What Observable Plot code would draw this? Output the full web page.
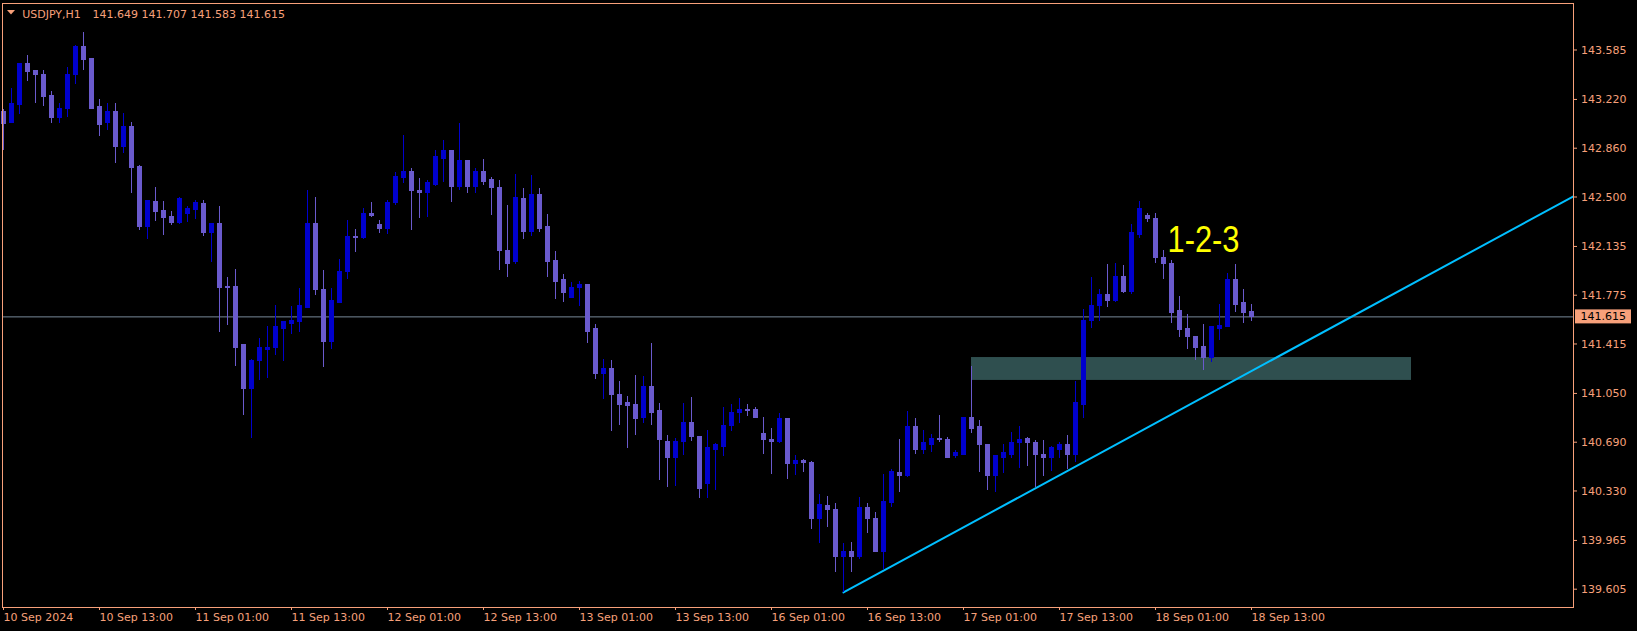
<!DOCTYPE html>
<html><head><meta charset="utf-8">
<script src="https://cdn.jsdelivr.net/npm/d3@7"></script>
<script src="https://cdn.jsdelivr.net/npm/@observablehq/plot@0.6"></script>
<style>html,body{margin:0;padding:0;background:#000;overflow:hidden}</style>
</head><body><div id="chart"></div>
<script>
const symbol = "USDJPY,H1";
const open = [143.131,143.043,143.176,143.478,143.427,143.404,143.242,143.080,143.153,143.397,143.604,143.515,143.161,143.043,143.131,142.866,143.013,142.718,142.282,142.460,142.393,142.349,142.305,142.378,142.401,142.445,142.231,142.297,141.839,141.832,141.404,141.086,141.286,141.374,141.382,141.529,141.566,141.574,141.684,142.297,141.817,141.426,141.721,141.943,142.208,142.194,142.378,142.290,142.267,142.452,142.637,142.688,142.543,142.526,142.592,142.777,142.836,142.577,142.769,142.577,142.681,142.622,142.563,142.105,142.017,142.482,142.238,142.518,142.275,142.024,141.884,141.758,141.825,141.847,141.522,141.190,141.227,141.042,140.983,140.961,140.865,141.094,140.917,140.695,140.570,140.688,140.835,140.732,140.385,140.636,140.658,140.806,140.902,140.931,140.931,140.754,140.703,140.688,140.858,140.526,140.548,140.540,140.120,140.216,140.193,139.846,139.876,139.846,140.208,140.120,139.883,140.238,140.459,140.444,140.799,140.636,140.673,140.717,140.703,140.585,140.599,140.872,140.799,140.673,140.444,140.577,140.592,140.681,140.710,140.681,140.599,140.570,140.636,140.673,140.599,140.968,141.581,141.692,141.780,141.729,141.906,141.802,142.223,142.356,142.341,142.053,142.009,141.655,141.522,141.470,141.396,141.315,141.529,141.537,141.884,141.721,141.649];
const high = [143.146,143.301,143.488,143.545,143.434,143.434,143.279,143.190,143.456,143.618,143.714,143.522,143.220,143.190,143.190,143.117,143.050,142.733,142.474,142.570,142.467,142.393,142.497,142.430,142.474,142.474,142.297,142.430,141.906,141.965,141.404,141.300,141.456,141.544,141.699,141.581,141.692,141.825,142.548,142.496,141.957,141.825,142.039,142.326,142.260,142.415,142.459,142.326,142.474,142.681,142.954,142.710,142.637,142.622,142.843,142.917,142.843,143.042,142.769,142.710,142.777,142.644,142.622,142.437,142.666,142.563,142.659,142.563,142.371,142.098,141.928,141.869,141.876,141.847,141.559,141.300,141.293,141.138,141.027,141.182,141.175,141.419,140.976,140.740,140.717,140.976,141.020,140.732,140.776,140.681,140.946,140.968,141.013,140.968,140.946,140.872,140.791,140.902,140.858,140.592,140.562,140.548,140.304,140.289,140.238,139.942,139.950,140.282,140.238,140.171,140.452,140.489,140.710,140.917,140.865,140.777,140.747,140.887,140.725,140.629,140.872,141.249,140.850,140.673,140.592,140.673,140.762,140.806,140.725,140.703,140.703,140.658,140.688,140.740,141.138,141.670,141.906,141.817,142.002,142.009,141.994,142.297,142.467,142.378,142.378,142.105,142.031,141.766,141.633,141.470,141.559,141.544,141.706,141.935,142.002,141.817,141.707];
const low = [142.846,143.043,143.112,143.353,143.190,143.168,143.043,143.043,143.087,143.333,143.434,143.146,142.947,142.991,142.747,142.821,142.526,142.253,142.187,142.319,142.216,142.290,142.297,142.312,142.334,142.209,142.017,141.500,141.551,141.249,140.887,140.715,141.146,141.160,141.330,141.286,141.485,141.500,141.684,141.773,141.241,141.374,141.721,141.891,142.090,142.186,142.349,142.231,142.223,142.437,142.600,142.253,142.341,142.349,142.577,142.607,142.459,142.548,142.526,142.526,142.585,142.363,141.957,141.906,142.002,142.186,142.208,142.238,141.906,141.743,141.721,141.758,141.692,141.419,141.153,141.005,140.769,140.813,140.644,140.740,140.828,140.813,140.407,140.356,140.363,140.592,140.695,140.275,140.275,140.334,140.585,140.769,140.828,140.880,140.872,140.599,140.452,140.681,140.415,140.444,140.467,140.046,139.942,140.061,139.728,139.581,139.728,139.824,140.016,139.876,139.751,140.208,140.319,140.430,140.599,140.599,140.614,140.688,140.570,140.570,140.599,140.754,140.467,140.334,140.319,140.459,140.570,140.496,140.511,140.356,140.437,140.474,140.570,140.489,140.540,140.865,141.529,141.581,141.684,141.721,141.788,141.780,142.194,142.312,142.009,141.891,141.566,141.463,141.374,141.293,141.219,141.278,141.441,141.537,141.647,141.566,141.583];
const close = [143.038,143.190,143.478,143.422,143.397,143.235,143.080,143.153,143.397,143.604,143.508,143.153,143.035,143.131,142.866,143.013,142.711,142.282,142.467,142.386,142.342,142.305,142.482,142.408,142.452,142.231,142.297,141.825,141.825,141.389,141.086,141.293,141.382,141.389,141.537,141.574,141.581,141.692,142.297,141.810,141.426,141.729,141.950,142.208,142.194,142.378,142.363,142.267,142.459,142.644,142.688,142.541,142.528,142.600,142.792,142.836,142.577,142.769,142.577,142.681,142.614,142.563,142.098,142.009,142.489,142.238,142.518,142.267,142.017,141.876,141.795,141.825,141.847,141.507,141.190,141.227,141.035,140.968,140.954,140.858,141.094,140.909,140.703,140.570,140.695,140.835,140.725,140.348,140.644,140.666,140.813,140.909,140.931,140.924,140.872,140.703,140.688,140.858,140.526,140.548,140.533,140.120,140.223,140.193,139.846,139.883,139.846,140.208,140.120,139.883,140.245,140.467,140.444,140.799,140.636,140.681,140.717,140.703,140.577,140.607,140.872,140.791,140.666,140.444,140.585,140.607,140.681,140.703,140.681,140.592,140.570,140.644,140.673,140.599,140.976,141.588,141.699,141.780,141.729,141.906,141.802,142.231,142.408,142.334,142.046,142.009,141.647,141.515,141.470,141.389,141.315,141.537,141.551,141.884,141.706,141.647,141.615];

const tickIndex = [0,12,24,36,48,60,72,84,96,108,120,132,144,156];
const tickLabels = ["10 Sep 2024","10 Sep 13:00","11 Sep 01:00","11 Sep 13:00","12 Sep 01:00","12 Sep 13:00","13 Sep 01:00","13 Sep 13:00","16 Sep 01:00","16 Sep 13:00","17 Sep 01:00","17 Sep 13:00","18 Sep 01:00","18 Sep 13:00"];
const priceTicks = [143.585,143.220,142.860,142.500,142.135,141.775,141.415,141.050,140.690,140.330,139.965,139.605];

const zoneIndex = [121, 176];
const zonePrice = [141.146, 141.315];
const trendIndex = [105, 196.25];
const trendPrice = [139.581, 142.505];
const noteText = ["1-2-3"];
const noteIndex = [145.5];
const notePrice = [142.18];

const BULL = "#0000CD", BEAR = "#6A5ACD", AXIS = "#F7A07A";
const n = open.length, last = n - 1;

const bars = open.map((o, i) => ({
  i, o, h: high[i], l: low[i], c: close[i],
  col: close[i] >= o ? BULL : BEAR
}));
const zone = [{x1: zoneIndex[0], x2: zoneIndex[1], y1: zonePrice[0], y2: zonePrice[1]}];
const trend = trendIndex.map((x, k) => ({x, y: trendPrice[k]}));
const notes = noteText.map((t, k) => ({t, x: noteIndex[k], y: notePrice[k]}));

const chart = Plot.plot({
  width: 1637, height: 631,
  marginLeft: 2, marginRight: 64, marginTop: 3, marginBottom: 24,
  style: {background: "#000", fontFamily: "DejaVu Sans", fontSize: "11px", color: AXIS},
  x: {type: "linear", domain: [-0.125, 196.25]},
  y: {type: "linear", domain: [139.4699, 143.9282]},
  marks: [
    Plot.rect(zone, {x1: "x1", x2: "x2", y1: "y1", y2: "y2", fill: "#2F4F4F"}),
    Plot.ruleY([close[last]], {stroke: "#778899", strokeWidth: 1}),
    Plot.line(trend, {x: "x", y: "y", stroke: "#00BFFF", strokeWidth: 2, clip: true}),
    Plot.ruleX(bars, {x: "i", y1: "l", y2: "h", stroke: "col", strokeWidth: 1, shapeRendering: "crispEdges"}),
    Plot.rect(bars, {x1: d => d.i - 0.25, x2: d => d.i + 0.375,
      y1: d => Math.min(d.o, d.c), y2: d => Math.max(d.o, d.c),
      insetTop: -0.5, insetBottom: -0.5, fill: "col", shapeRendering: "crispEdges"}),
    Plot.text(notes, {x: "x", y: "y", text: "t", fill: "#FFFF00", fontSize: 37,
      fontFamily: "Liberation Sans, Arial, sans-serif", textAnchor: "start", lineAnchor: "middle"}),
    Plot.text([symbol], {frameAnchor: "top-left", dx: 19.7, dy: 6.5, fill: AXIS, lineAnchor: "top", textAnchor: "start"}),
    Plot.text([[open[last], high[last], low[last], close[last]].map(v => v.toFixed(3)).join(" ")],
      {frameAnchor: "top-left", dx: 90, dy: 6.5, fill: AXIS, lineAnchor: "top", textAnchor: "start"}),
    Plot.axisY(priceTicks, {anchor: "right", tickSize: 3, tickPadding: 4.5, tickFormat: d => d.toFixed(3),
      stroke: AXIS, fill: AXIS, label: null}),
    Plot.axisX(tickIndex, {anchor: "bottom", tickSize: 3, tickPadding: 3, textAnchor: "start",
      tickFormat: d => tickLabels[tickIndex.indexOf(d)], stroke: AXIS, fill: AXIS, label: null}),
    Plot.frame({stroke: AXIS})
  ]
});
document.getElementById("chart").appendChild(chart);

// decorations: price tag on the axis, header triangle, narrow annotation text
const svg = d3.select(chart);
const yS = chart.scale("y"), xS = chart.scale("x");
const yp = yS.apply(close[last]);
const xr = xS.range[1];
svg.append("rect").attr("x", xr + 2).attr("y", yp - 7).attr("width", 56).attr("height", 14).attr("fill", AXIS);
svg.append("text").attr("x", xr + 7.5).attr("y", yp).attr("dy", "0.35em")
  .attr("text-anchor", "start")
  .attr("fill", "#000").attr("font-family", "DejaVu Sans").attr("font-size", 11).text(close[last].toFixed(3));
svg.append("path").attr("d", "M7,10L15,10L11,14.5Z").attr("fill", AXIS);
svg.selectAll("text").filter(function(){ return this.textContent === noteText[0]; })
  .attr("textLength", 72).attr("lengthAdjust", "spacingAndGlyphs");
</script></body></html>
